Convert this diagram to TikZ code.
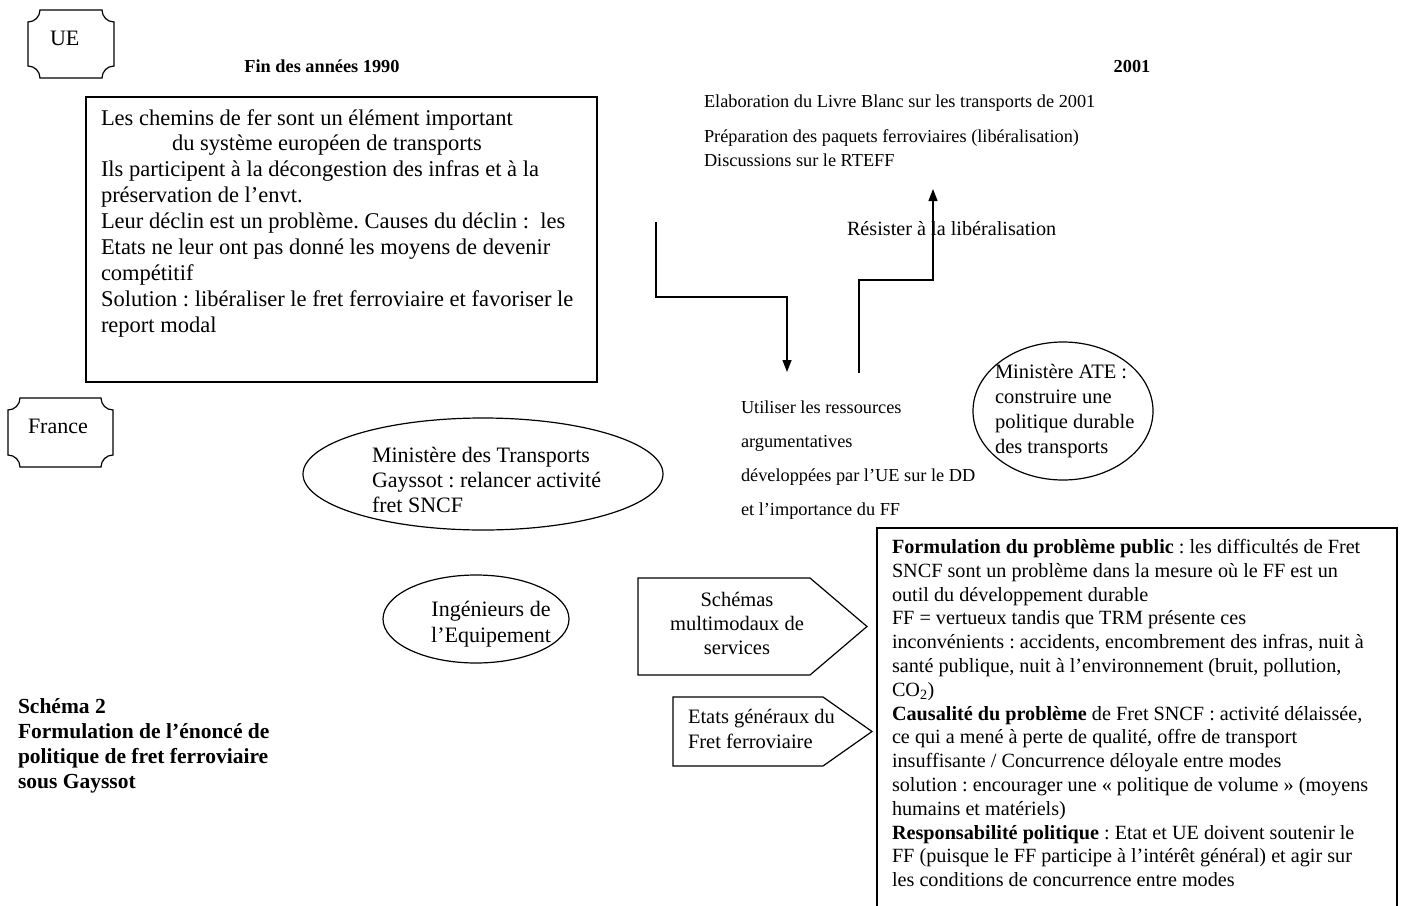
\documentclass[tikz,border=0pt]{standalone}
\usepackage{fontspec}
\setmainfont{Liberation Serif}
\usetikzlibrary{arrows.meta}
\frenchspacing
\newcommand\fA{\fontsize{22.5}{25.9}\selectfont}
\newcommand\fB{\fontsize{20.2}{23.8}\selectfont}
\newcommand\fC{\fontsize{18.3}{22}\selectfont}
\newcommand\tl[2][l]{\begin{tabular}[t]{@{}#1@{}}#2\end{tabular}}
\newcommand\plaquepath[5]{%
  \draw[box] (#1+#5,#2) -- (#3-#5,#2)
    .. controls (#3-#5,#2+0.55*#5) and (#3-0.55*#5,#2+#5) .. (#3,#2+#5)
    -- (#3,#4-#5)
    .. controls (#3-0.55*#5,#4-#5) and (#3-#5,#4-0.55*#5) .. (#3-#5,#4)
    -- (#1+#5,#4)
    .. controls (#1+#5,#4-0.55*#5) and (#1+0.55*#5,#4-#5) .. (#1,#4-#5)
    -- (#1,#2+#5)
    .. controls (#1+0.55*#5,#2+#5) and (#1+#5,#2+0.55*#5) .. cycle;}
\tikzset{
  box/.style={draw, line width=1.2pt},
  txt/.style={inner sep=0pt, outer sep=0pt, anchor=base west},
  ctxt/.style={inner sep=0pt, outer sep=0pt, anchor=base},
  arr/.style={line width=1.3pt, -{Triangle[length=12pt,width=9pt]}},
}
\begin{document}
\begin{tikzpicture}[x=1pt,y=-1pt]
\useasboundingbox[fill=white] (0,0) rectangle (1402,905);

% plaques
\plaquepath{28}{10}{114}{78}{12}
\node[txt,font=\fontsize{22}{25}\selectfont] (ue) at (50,45) {UE};
\plaquepath{8}{398}{113}{467}{12}
\node[txt,font=\fontsize{22}{25}\selectfont] (fr) at (28,433) {France};

% headings
\node[ctxt,font=\fC\bfseries] (h1) at (322,72) {Fin des années 1990};
\node[ctxt,font=\fC\bfseries] (h2) at (1132,72) {2001};

% main EU box
\draw[box] (86,97) rectangle (597,382);
\node[txt,font=\fA] (eu) at (101,125) {\tl{%
Les chemins de fer sont un élément important\\
\hspace*{71pt}du système européen de transports\\
Ils participent à la décongestion des infras et à la\\
préservation de l’envt.\\
Leur déclin est un problème. Causes du déclin :\ \ les\\
Etats ne leur ont pas donné les moyens de devenir\\
compétitif\\
Solution : libéraliser le fret ferroviaire et favoriser le\\
report modal}};

% top right
\node[txt,font=\fC] (lb) at (704,107.5) {Elaboration du Livre Blanc sur les transports de 2001};
\node[txt,font=\fontsize{18.3}{24}\selectfont] (pq) at (704,142.5) {\tl{Préparation des paquets ferroviaires (libéralisation)\\Discussions sur le RTEFF}};

% arrows
\coordinate (a1s) at (656,222);
\coordinate (a1e) at (787,372);
\coordinate (a2s) at (859,373);
\coordinate (a2e) at (933,189);
\draw[arr] (a1s) -- (656,297) -| (a1e);
\draw[arr] (a2s) -- (859,280) -| (a2e);
\node[txt,font=\fB] (res) at (847,235.5) {Résister à la libéralisation};

% Utiliser
\node[txt,font=\fontsize{18.3}{34}\selectfont] (ut) at (741,413.5) {\tl{Utiliser les ressources\\argumentatives\\développées par l’UE sur le DD\\et l’importance du FF}};

% ATE ellipse
\draw[box] (1063,411) ellipse [x radius=90, y radius=69];
\node[txt,font=\fontsize{20.5}{25.3}\selectfont] (ate) at (995,378) {\tl{Ministère ATE :\\construire une\\politique durable\\des transports}};

% Ministere des transports ellipse
\draw[box] (483,474) ellipse [x radius=180, y radius=56];
\node[txt,font=\fontsize{22}{25}\selectfont] (mt) at (372,462) {\tl{Ministère des Transports\\Gayssot : relancer activité\\fret SNCF}};

% Ingenieurs ellipse
\draw[box] (476,619) ellipse [x radius=93, y radius=44];
\node[ctxt,font=\fontsize{22}{26}\selectfont] (ing) at (491,616) {\tl[c]{Ingénieurs de\\l’Equipement}};

% Schemas pentagon
\draw[box] (638,578) -- (810,578) -- (867,626.5) -- (810,675) -- (638,675) -- cycle;
\node[ctxt,font=\fontsize{20.5}{24}\selectfont] (sch) at (737,606.5) {\tl[c]{Schémas\\multimodaux de\\services}};

% Etats pentagon
\draw[box] (673,697) -- (823,697) -- (872,731.5) -- (823,766) -- (673,766) -- cycle;
\node[txt,font=\fontsize{20.5}{25}\selectfont] (eg) at (688,723.5) {\tl{Etats généraux du\\Fret ferroviaire}};

% big box
\draw[box] (877,912) -- (877,528) -- (1397,528) -- (1397,912);
\node[txt,font=\fontsize{20.2}{23.8}\selectfont] (pb) at (892,553.5) {\tl{%
\textbf{Formulation du problème public} : les difficultés de Fret\\
SNCF sont un problème dans la mesure où le FF est un\\
outil du développement durable\\
FF = vertueux tandis que TRM présente ces\\
inconvénients : accidents, encombrement des infras, nuit à\\
santé publique, nuit à l’environnement (bruit, pollution,\\
CO\textsubscript{2})\\
\textbf{Causalité du problème} de Fret SNCF : activité délaissée,\\
ce qui a mené à perte de qualité, offre de transport\\
insuffisante / Concurrence déloyale entre modes\\
solution : encourager une « politique de volume » (moyens\\
humains et matériels)\\
\textbf{Responsabilité politique} : Etat et UE doivent soutenir le\\
FF (puisque le FF participe à l’intérêt général) et agir sur\\
les conditions de concurrence entre modes}};

% caption
\node[txt,font=\fontsize{21.5}{25}\selectfont\bfseries] (cap) at (18,713) {\tl{Schéma 2\\Formulation de l’énoncé de\\politique de fret ferroviaire\\sous Gayssot}};
\end{tikzpicture}
\end{document}
